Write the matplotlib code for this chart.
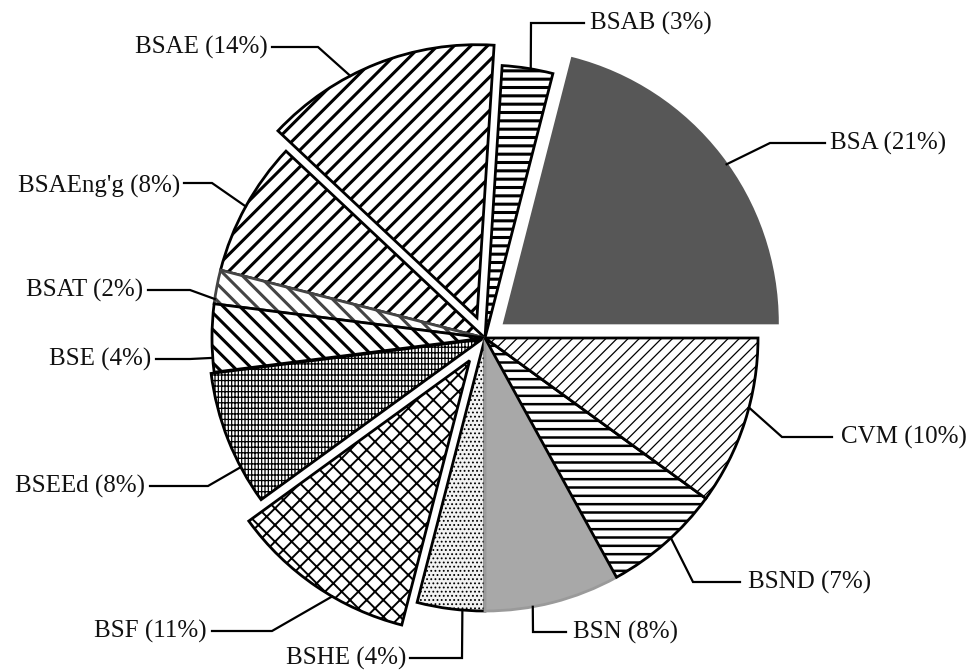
import numpy as np
import matplotlib
matplotlib.use("Agg")
import matplotlib.pyplot as plt

plt.rcParams['font.family'] = ['Liberation Serif', 'DejaVu Serif']
plt.rcParams['hatch.linewidth'] = 2.0

W, H = 973, 672

# programme shares, counter-clockwise from the 3 o'clock position
programs = ['BSA', 'BSAB', 'BSAE', "BSAEng'g", 'BSAT', 'BSE',
            'BSEEd', 'BSF', 'BSHE', 'BSN', 'BSND', 'CVM']
shares = [21, 3, 14, 8, 2, 4, 8, 11, 4, 8, 7, 10]

# pull-out of each slice as a fraction of the radius
explode = [0.09, 0, 0.08, 0, 0, 0, 0.012, 0.1, 0, 0, 0, 0]
faces = ['#575757', 'white', 'white', 'white', 'white', 'white',
         'white', 'white', '#f2f2f2', '#a8a8a8', 'white', 'white']
edges = ['#575757', 'black', 'black', 'black', '#444444', 'black',
         'black', 'black', 'black', '#9a9a9a', 'black', 'black']
hatches = [None, '--', '//', '//', '\\\\', '\\\\',
           '|||||---', 'xx', '....', None, '--', '///']
hatch_lw = [2, 2.2, 2.2, 2.2, 2.2, 2.2, 0.9, 1.4, 0.8, 1, 1.8, 0.9]

CX, CY, R = 485, 338, 273

fig = plt.figure(figsize=(W / 100, H / 100), dpi=100)
ax = fig.add_axes([0, 0, 1, 1])

# pie() offsets exploded wedges in data units, so scale by the radius
wedges, _ = ax.pie(shares, explode=[e * R for e in explode],
                   startangle=0, counterclock=True,
                   center=(CX, H - CY), radius=R,
                   wedgeprops=dict(linewidth=2.0))
for w, fc, ec, ht, hl in zip(wedges, faces, edges, hatches, hatch_lw):
    w.set_facecolor(fc)
    w.set_edgecolor(ec)
    if ht:
        w.set_hatch(ht)
        if hasattr(w, 'set_hatch_linewidth'):
            w.set_hatch_linewidth(hl)

# leader layout: where on the arc (fraction of the wedge), elbow, line end,
# text position and alignment, all in pixel coordinates from the top-left
leaders = {
    'BSA':      (0.47, (770, 143), (825, 143), (830, 143), 'left'),
    'BSAB':     (0.44, (531, 23),  (584, 23),  (590, 23),  'left'),
    'BSAE':     (0.62, (318, 47),  (272, 47),  (268, 47),  'right'),
    "BSAEng'g": (0.50, (212, 183), (184, 183), (180, 186), 'right'),
    'BSAT':     (0.86, (190, 290), (148, 290), (143, 290), 'right'),
    'BSE':      (0.79, (190, 359), (156, 359), (151, 359), 'right'),
    'BSEEd':    (0.72, (208, 486), (150, 486), (145, 486), 'right'),
    'BSF':      (0.60, (272, 631), (212, 631), (207, 631), 'right'),
    'BSHE':     (0.67, (462, 658), (410, 658), (406, 658), 'right'),
    'BSN':      (0.35, (533, 632), (566, 632), (573, 632), 'left'),
    'BSND':     (0.56, (693, 582), (740, 582), (748, 582), 'left'),
    'CVM':      (0.59, (782, 437), (832, 437), (841, 437), 'left'),
}

for w, name, pct in zip(wedges, programs, shares):
    frac, elbow, end, tpos, ha = leaders[name]
    th = np.radians(w.theta1 + frac * (w.theta2 - w.theta1))
    ax_x = w.center[0] + w.r * np.cos(th)
    ax_y = w.center[1] + w.r * np.sin(th)
    xs = [ax_x, elbow[0], end[0]]
    ys = [ax_y, H - elbow[1], H - end[1]]
    ax.plot(xs, ys, color='black', lw=1.6, solid_joinstyle='miter')
    ax.text(tpos[0], H - tpos[1], f'{name} ({pct}%)', ha=ha, va='center',
            fontsize=18, color='#111111')

ax.set_xlim(0, W)
ax.set_ylim(0, H)
ax.set_aspect('equal')
ax.axis('off')

fig.savefig('out.png', dpi=100, facecolor='white')
